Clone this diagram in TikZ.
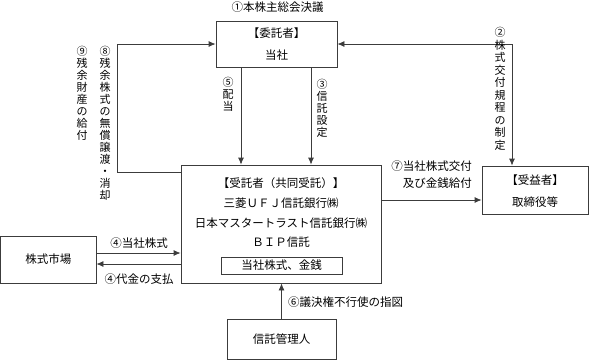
\documentclass[tikz,border=0pt]{standalone}
\usepackage{fontspec}
\newfontfamily\jp{Noto Sans CJK JP}
\usetikzlibrary{arrows.meta}
\definecolor{myline}{RGB}{60,60,60}

\tikzset{
  box/.style={draw=myline, line width=0.8pt, inner sep=0pt},
  txt/.style={font=\jp\fontsize{11.5}{12}\selectfont, inner sep=0pt},
  tate/.style={font=\jp\fontsize{11}{12}\selectfont, align=center, anchor=north, inner sep=0pt},
  arr/.style={-{Latex[length=7pt,width=6pt]}, draw=myline, line width=0.8pt},
  darr/.style={{Latex[length=7pt,width=6pt]}-{Latex[length=7pt,width=6pt]}, draw=myline, line width=0.8pt}
}

\begin{document}
\begin{tikzpicture}[x=1pt, y=-1pt]
\useasboundingbox (0,0) rectangle (591,360);

% boxes
\node[box, minimum width=121, minimum height=46] (itakusha) at (276.5,44) {};
\node[box, minimum width=200, minimum height=118] (jutaku) at (281,224) {};
\node[box, minimum width=106, minimum height=48] (jueki) at (535,190) {};
\node[box, minimum width=95.5, minimum height=47] (shijo) at (48.25,259.5) {};
\node[box, minimum width=109, minimum height=40] (kanri) at (281.5,339) {};
\node[box, minimum width=121, minimum height=17] (zaisan) at (281.5,265.5) {};

% box texts
\node[txt] (itakusha-t) at (276.5,33) {【委託者】};
\node[txt] (itakusha-n) at (276.5,55) {当社};
\node[txt] (jutaku-t) at (281,183) {【受託者（共同受託）】};
\node[txt] (jutaku-n1) at (281,203) {三菱ＵＦＪ信託銀行㈱};
\node[txt] (jutaku-n2) at (281,223) {日本マスタートラスト信託銀行㈱};
\node[txt] (jutaku-n3) at (281,242) {ＢＩＰ信託};
\node[txt] (zaisan-t) at (281.5,265.5) {当社株式、金銭};
\node[txt] (jueki-t) at (535,180) {【受益者】};
\node[txt] (jueki-n) at (535,202) {取締役等};
\node[txt] (shijo-t) at (48.25,259.5) {株式市場};
\node[txt] (kanri-t) at (281.5,339) {信託管理人};

% connectors
\draw[arr] ([yshift=-8pt]jutaku.north west) -- ++(-63,0) |- (itakusha.west);
\draw[darr] (itakusha.east) -| ([xshift=-23pt]jueki.north);
\draw[arr] ([xshift=-35.5pt]itakusha.south) -- ([xshift=-35.5pt]itakusha.south |- jutaku.north);
\draw[arr] ([xshift=34.5pt]itakusha.south) -- ([xshift=34.5pt]itakusha.south |- jutaku.north);
\draw[arr] ([yshift=-10pt]jueki.west -| jutaku.east) -- ([yshift=-10pt]jueki.west);
\draw[arr] ([yshift=6.5pt]shijo.east) -- ([yshift=6.5pt]shijo.east -| jutaku.west);
\draw[arr] ([yshift=-4.5pt]shijo.east -| jutaku.west) -- ([yshift=-4.5pt]shijo.east);
\draw[arr] (kanri.north) -- (kanri.north |- jutaku.south);

% labels
\node[txt] (l1) at (277.5,7) {①本株主総会決議};
\node[txt] (l4a) at (139,243) {④当社株式};
\node[txt] (l4b) at (139,279) {④代金の支払};
\node[txt, anchor=east] (l7a) at (472,166) {⑦当社株式交付};
\node[txt, anchor=east] (l7b) at (472,183) {及び金銭給付};
\node[txt, anchor=west] (l6) at (288,302) {⑥議決権不行使の指図};

\node[tate] (l9) at (82,46) {⑨\\残\\余\\財\\産\\の\\給\\付};
\node[tate] (l8) at (105,46) {⑧\\残\\余\\株\\式\\の\\無\\償\\譲\\渡\\・\\消\\却};
\node[tate] (l5) at (228,77) {⑤\\配\\当};
\node[tate] (l3) at (322,79) {③\\信\\託\\設\\定};
\node[tate, font=\jp\fontsize{11}{12.5}\selectfont] (l2) at (500,27) {②\\株\\式\\交\\付\\規\\程\\の\\制\\定};
\end{tikzpicture}
\end{document}
